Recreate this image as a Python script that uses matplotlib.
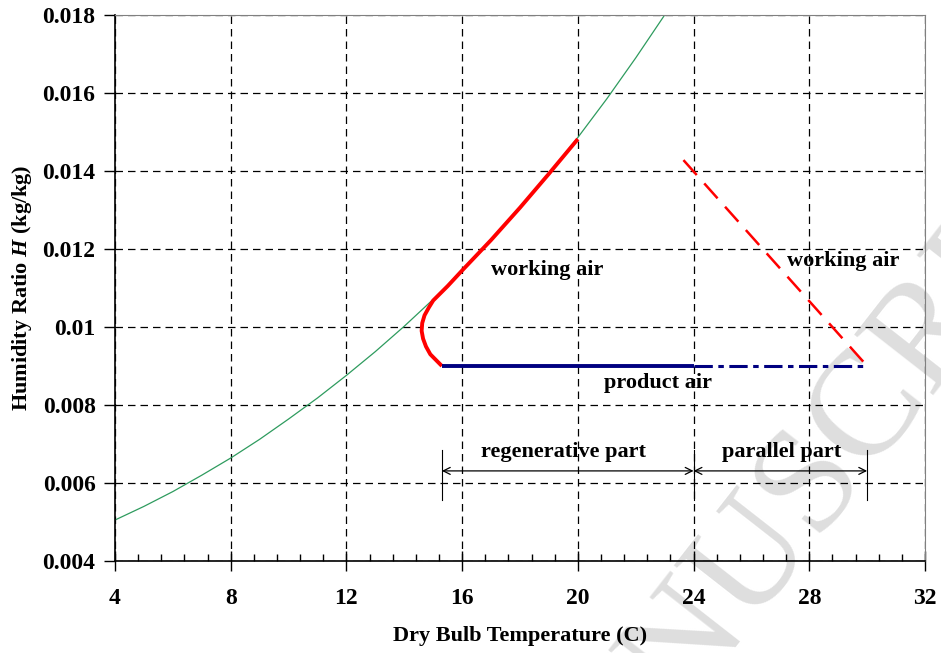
import matplotlib
matplotlib.use("Agg")
import matplotlib.pyplot as plt
import numpy as np
from matplotlib.ticker import MultipleLocator

plt.rcParams['font.family'] = ['Liberation Serif', 'DejaVu Serif']
plt.rcParams['font.weight'] = 'bold'
plt.rcParams['mathtext.fontset'] = 'custom'
plt.rcParams['mathtext.rm'] = 'Liberation Serif:bold'
plt.rcParams['mathtext.bfit'] = 'Liberation Serif:italic:bold'

# saturation curve
sat_t = [4, 5, 6, 7, 8, 9, 10, 11, 12, 13, 14, 15, 16, 17, 18, 19, 20, 21, 22, 23, 24]
sat_h = [0.00505, 0.00540, 0.00578, 0.00620, 0.00664, 0.00712, 0.00764, 0.00818,
         0.00876, 0.00937, 0.01002, 0.01071, 0.01145, 0.01223, 0.01306, 0.01393,
         0.01486, 0.01585, 0.01690, 0.01800, 0.01915]

# working air, regenerative part
work_t = [15.3, 15.1, 14.9, 14.75, 14.65, 14.6, 14.62, 14.7, 14.85, 15.0, 15.5,
          16.0, 17.0, 18.0, 19.0, 20.0]
work_h = [0.0090, 0.00915, 0.0093, 0.0095, 0.0097, 0.0099, 0.0101, 0.0103, 0.0105,
          0.01068, 0.01105, 0.01145, 0.01223, 0.01306, 0.01393, 0.01482]

# working air, parallel part
work2_t = [23.65, 30.0]
work2_h = [0.01428, 0.0090]

# product air
prod_t = [15.3, 24.0]
prod_h = [0.009, 0.009]
prod2_t = [24.0, 30.0]
prod2_h = [0.009, 0.009]

# part boundaries
bounds = [15.3, 24.0, 30.0]
arrow_y = 0.00631

fig = plt.figure(figsize=(9.41, 6.53), dpi=100)
fig.text(803 / 941, 1 - 497 / 653, 'MANUSCRIPT', fontsize=108, color='#dedede',
         rotation=52, rotation_mode='anchor', ha='center', va='center',
         zorder=-1, fontweight='normal')

ax = fig.add_axes([0.1222, 0.1409, 0.8608, 0.8361])
ax.set_facecolor('none')

ax.plot(sat_t, sat_h, color='#2e9b5e', lw=0.9)
ax.plot(work_t, work_h, color='#ff0000', lw=2.8, solid_capstyle='butt', solid_joinstyle='round')
ax.plot(work2_t, work2_h, color='#ff0000', lw=1.8, dashes=(8, 4.5))
ax.plot(prod_t, prod_h, color='#000080', lw=2.8, solid_capstyle='butt')
ax.plot(prod2_t, prod2_h, color='#000080', lw=2.2, dashes=(6, 1.8, 1.8, 1.8))

for b in bounds:
    ax.plot([b, b], [0.00556, 0.00685], color='black', lw=0.8)
for a, b in zip(bounds[:-1], bounds[1:]):
    ax.annotate('', xy=(b, arrow_y), xytext=(a, arrow_y),
                arrowprops=dict(arrowstyle='<->,head_length=0.5,head_width=0.25',
                                color='black', lw=0.9, shrinkA=0, shrinkB=0))

fs = 16
ax.text(18.93, 0.01146, 'working air', fontsize=fs, ha='center', va='center')
ax.text(29.16, 0.01169, 'working air', fontsize=fs, ha='center', va='center')
ax.text(22.77, 0.00856, 'product air', fontsize=fs, ha='center', va='center')
ax.text(19.49, 0.0068, 'regenerative part', fontsize=fs, ha='center', va='center')
ax.text(27.06, 0.0068, 'parallel part', fontsize=fs, ha='center', va='center')

ax.set_xlim(4, 32)
ax.set_ylim(0.004, 0.018)
ax.xaxis.set_major_locator(MultipleLocator(4))
ax.xaxis.set_minor_locator(MultipleLocator(0.8))
ax.set_yticks(np.arange(0.004, 0.0181, 0.002))
ax.set_yticklabels(['0.004', '0.006', '0.008', '0.01', '0.012', '0.014', '0.016', '0.018'])

ax.grid(True, which='major', color='black', lw=0.9, dashes=(6, 4))
ax.tick_params(axis='x', which='major', direction='inout', length=15, width=1, labelsize=17, pad=12)
ax.tick_params(axis='x', which='minor', direction='in', length=5, width=1)
ax.tick_params(axis='y', which='major', direction='out', length=8, width=1, labelsize=17, pad=6)
for s in ['top', 'right']:
    ax.spines[s].set_color('#808080')
for s in ['left', 'bottom']:
    ax.spines[s].set_color('black')
    ax.spines[s].set_linewidth(1.2)

ax.set_xlabel('Dry Bulb Temperature (C)', fontsize=16, fontweight='bold', labelpad=12)
ax.set_ylabel(r'Humidity Ratio $\mathbfit{H}$ (kg/kg)', fontsize=16, fontweight='bold', labelpad=6)

fig.savefig('out.png', dpi=100)
